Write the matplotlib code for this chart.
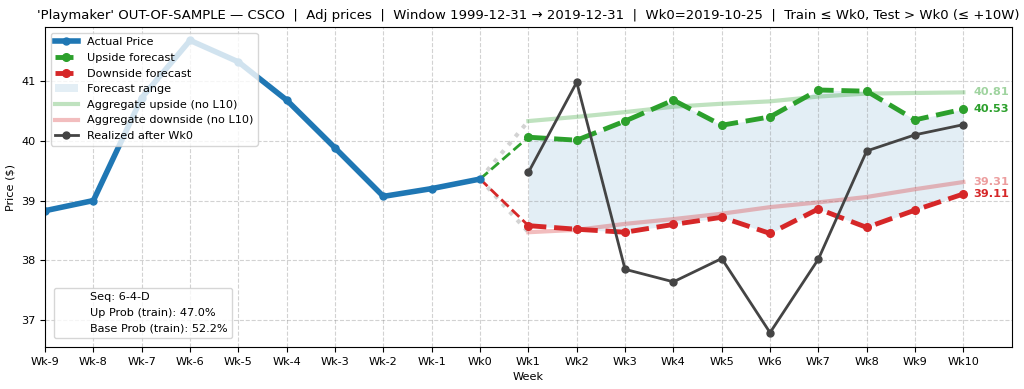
import matplotlib
matplotlib.use("Agg")
from matplotlib import pyplot as plt
from matplotlib.lines import Line2D

# weeks relative to Wk0
hist_weeks = [-9, -8, -7, -6, -5, -4, -3, -2, -1, 0]
hist_price = [38.83, 39.00, 40.72, 41.68, 41.32, 40.68, 39.88, 39.07, 39.20, 39.36]

fc_weeks = [1, 2, 3, 4, 5, 6, 7, 8, 9, 10]
upside = [40.06, 40.01, 40.33, 40.68, 40.26, 40.40, 40.85, 40.83, 40.35, 40.53]
downside = [38.58, 38.52, 38.47, 38.60, 38.72, 38.45, 38.86, 38.55, 38.84, 39.11]
agg_up = [40.33, 40.40, 40.48, 40.57, 40.62, 40.66, 40.74, 40.79, 40.80, 40.81]
agg_down = [38.47, 38.51, 38.61, 38.69, 38.78, 38.89, 38.97, 39.06, 39.19, 39.31]
realized = [39.47, 40.98, 37.85, 37.64, 38.03, 36.79, 38.02, 39.83, 40.10, 40.27]

tick_labels = ["Wk%d" % w for w in range(-9, 11)]
info_lines = ["Seq: 6-4-D", "Up Prob (train): 47.0%", "Base Prob (train): 52.2%"]

fs = 8.1

fig, ax = plt.subplots(figsize=(10.24, 3.89), dpi=100)
fig.subplots_adjust(left=0.044, right=0.988, top=0.93, bottom=0.108)

w0 = hist_weeks[-1]
p0 = hist_price[-1]

ax.fill_between(fc_weeks, downside, upside, color="#1f77b4", alpha=0.12,
                linewidth=0, label="Forecast range")

# connectors from Wk0
ax.plot([w0, fc_weeks[0]], [p0, agg_up[0]], color="lightgray", linestyle=":", linewidth=3)
ax.plot([w0, fc_weeks[0]], [p0, agg_down[0]], color="lightgray", linestyle=":", linewidth=3)
ax.plot([w0, fc_weeks[0]], [p0, upside[0]], color="#2ca02c", linestyle="--", linewidth=2)
ax.plot([w0, fc_weeks[0]], [p0, downside[0]], color="#d62728", linestyle="--", linewidth=2)

ax.plot(fc_weeks, agg_up, color="#2ca02c", alpha=0.3, linewidth=3, label="Aggregate upside (no L10)")
ax.plot(fc_weeks, agg_down, color="#d62728", alpha=0.3, linewidth=3, label="Aggregate downside (no L10)")

ax.plot(hist_weeks, hist_price, color="#1f77b4", linewidth=4, marker="o", markersize=5,
        label="Actual Price")
ax.plot(fc_weeks, upside, color="#2ca02c", linewidth=3.5, linestyle="--",
        marker="o", markersize=5.5, label="Upside forecast")
ax.plot(fc_weeks, downside, color="#d62728", linewidth=3.5, linestyle="--",
        marker="o", markersize=5.5, label="Downside forecast")
ax.plot(fc_weeks, realized, color="#444444", linewidth=2, marker="o", markersize=5,
        label="Realized after Wk0")

# end labels
lx = fc_weeks[-1] + 0.2
ax.text(lx, agg_up[-1], "%.2f" % agg_up[-1], color="#2ca02c", alpha=0.45,
        fontsize=fs, fontweight="bold", va="center")
ax.text(lx, upside[-1], "%.2f" % upside[-1], color="#2ca02c",
        fontsize=fs, fontweight="bold", va="center")
ax.text(lx, agg_down[-1], "%.2f" % agg_down[-1], color="#d62728", alpha=0.45,
        fontsize=fs, fontweight="bold", va="center")
ax.text(lx, downside[-1], "%.2f" % downside[-1], color="#d62728",
        fontsize=fs, fontweight="bold", va="center")

ax.set_xticks(range(-9, 11))
ax.set_xticklabels(tick_labels)
ax.set_xlim(-9, 11)
ax.set_ylim(36.55, 41.9)
ax.set_yticks([37, 38, 39, 40, 41])
ax.tick_params(labelsize=fs)
ax.grid(True, linestyle="--", color="gray", alpha=0.35, linewidth=0.8)

ax.set_xlabel("Week", fontsize=fs)
ax.set_ylabel("Price ($)", fontsize=fs)
ax.set_title("'Playmaker' OUT-OF-SAMPLE \u2014 CSCO  |  Adj prices  |  Window 1999-12-31 \u2192 2019-12-31"
             "  |  Wk0=2019-10-25  |  Train \u2264 Wk0, Test > Wk0 (\u2264 +10W)", fontsize=9.5)

handles, labels = ax.get_legend_handles_labels()
order = ["Actual Price", "Upside forecast", "Downside forecast", "Forecast range",
         "Aggregate upside (no L10)", "Aggregate downside (no L10)", "Realized after Wk0"]
hmap = dict(zip(labels, handles))
leg1 = ax.legend([hmap[k] for k in order], order, loc="upper left", fontsize=fs)
ax.add_artist(leg1)

blank = [Line2D([], [], linestyle="none") for _ in info_lines]
ax.legend(blank, info_lines, loc="lower left", fontsize=fs, borderaxespad=0.8)

plt.savefig("out.png", format="png", dpi=100)
